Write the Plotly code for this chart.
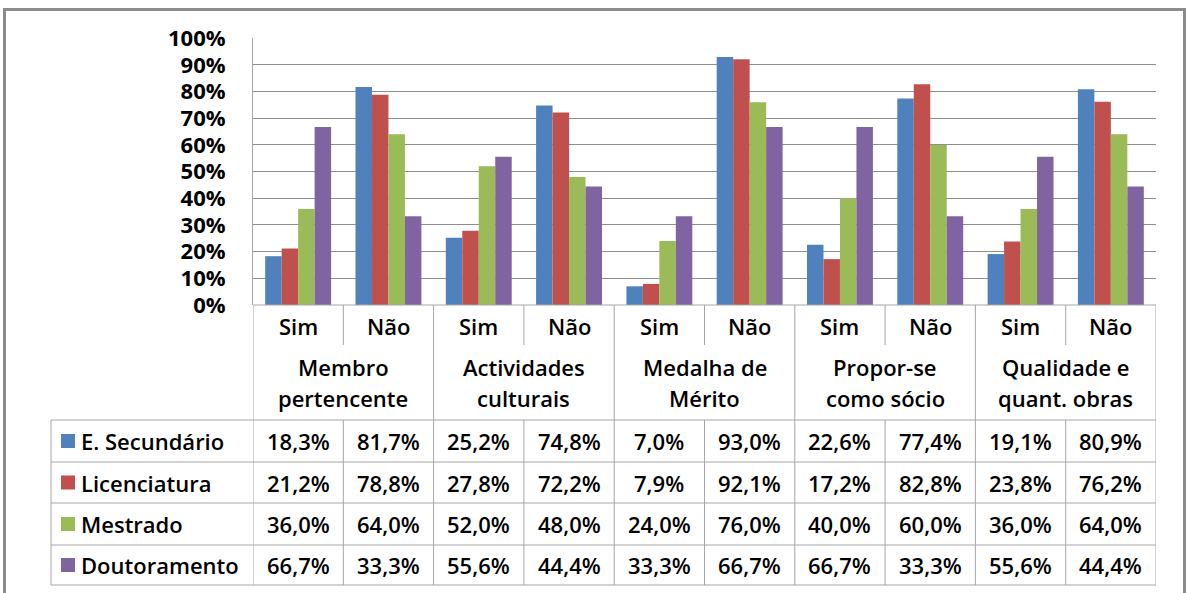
import plotly.graph_objects as go

W, H = 1187, 593

groups = ['Membro<br>pertencente', 'Actividades<br>culturais', 'Medalha de<br>Mérito',
          'Propor-se<br>como sócio', 'Qualidade e<br>quant. obras']
answers = ['Sim', 'Não']

series = ['E. Secundário', 'Licenciatura', 'Mestrado', 'Doutoramento']
colors = ['#4F81BD', '#C0504D', '#9BBB59', '#8064A2']

sec = [18.3, 81.7, 25.2, 74.8, 7.0, 93.0, 22.6, 77.4, 19.1, 80.9]
lic = [21.2, 78.8, 27.8, 72.2, 7.9, 92.1, 17.2, 82.8, 23.8, 76.2]
mes = [36.0, 64.0, 52.0, 48.0, 24.0, 76.0, 40.0, 60.0, 36.0, 64.0]
dou = [66.7, 33.3, 55.6, 44.4, 33.3, 66.7, 66.7, 33.3, 55.6, 44.4]
values = [sec, lic, mes, dou]

FONT = 'Open Sans'
TXT = 22
GRID = '#8E8E8E'
LINE = '#A6A6A6'
tfont = dict(family=FONT, size=TXT, color='black', weight=600)


def px(x):
    return x / W


def py(y):
    return 1 - y / H


n = len(groups) * len(answers)
xs = list(range(n))

fig = go.Figure()
for name, col, vals in zip(series, colors, values):
    fig.add_trace(go.Bar(x=xs, y=[v / 100 for v in vals], name=name,
                         marker=dict(color=col, line=dict(width=0))))

# table geometry (pixels)
plot_l, plot_r, plot_t, plot_b = 253, 1156, 38, 305
tab_l = 51
row_y = [420, 462, 503, 545, 585]
sub_b = 345

shapes = []
# outer chart border (bottom edge falls below the picture)
shapes.append(dict(type='rect', xref='paper', yref='paper', x0=px(4.5), x1=px(1184.5),
                   y0=py(H + 6), y1=py(9.5), line=dict(color='#8C8C8C', width=3)))
# horizontal table lines
shapes.append(dict(type='line', xref='paper', yref='paper', x0=px(plot_l), x1=px(plot_r),
                   y0=py(plot_b), y1=py(plot_b), line=dict(color=LINE, width=1)))
for y in row_y:
    shapes.append(dict(type='line', xref='paper', yref='paper', x0=px(tab_l), x1=px(plot_r),
                       y0=py(y), y1=py(y), line=dict(color=LINE, width=1)))
shapes.append(dict(type='line', xref='paper', yref='paper', x0=px(tab_l), x1=px(tab_l),
                   y0=py(row_y[0]), y1=py(row_y[-1]), line=dict(color=LINE, width=1)))
# vertical lines on category boundaries
for i in range(n + 1):
    xb = i - 0.5
    if i % 2 == 0:
        shapes.append(dict(type='line', xref='x', yref='paper', x0=xb, x1=xb,
                           y0=py(plot_b), y1=py(row_y[-1]), line=dict(color=LINE, width=1)))
    else:
        shapes.append(dict(type='line', xref='x', yref='paper', x0=xb, x1=xb,
                           y0=py(plot_b), y1=py(sub_b), line=dict(color=LINE, width=1)))
        shapes.append(dict(type='line', xref='x', yref='paper', x0=xb, x1=xb,
                           y0=py(row_y[0]), y1=py(row_y[-1]), line=dict(color=LINE, width=1)))

annotations = []
for i in range(n):
    annotations.append(dict(x=i, y=py(326), xref='x', yref='paper', text=answers[i % 2],
                            xanchor='center', yanchor='middle', showarrow=False, font=tfont))
for g, label in enumerate(groups):
    for line_txt, yl in zip(label.split('<br>'), [367, 398]):
        annotations.append(dict(x=2 * g + 0.5, y=py(yl), xref='x', yref='paper', text=line_txt,
                                xanchor='center', yanchor='middle', showarrow=False, font=tfont))

for r, (name, col, vals) in enumerate(zip(series, colors, values)):
    yc = (row_y[r] + row_y[r + 1]) / 2
    shapes.append(dict(type='rect', xref='paper', yref='paper', x0=px(61), x1=px(75),
                       y0=py(yc + 7), y1=py(yc - 7), fillcolor=col, line=dict(width=0)))
    annotations.append(dict(x=px(79), y=py(yc), xref='paper', yref='paper', text=name,
                            xanchor='left', yanchor='middle', showarrow=False, font=tfont))
    for i, v in enumerate(vals):
        annotations.append(dict(x=i, y=py(yc), xref='x', yref='paper',
                                text=f'{v:.1f}%'.replace('.', ','),
                                xanchor='center', yanchor='middle', showarrow=False, font=tfont))

fig.update_layout(
    width=W, height=H,
    margin=dict(l=0, r=0, t=0, b=0, pad=0),
    paper_bgcolor='white', plot_bgcolor='white',
    barmode='group', bargap=0.27, bargroupgap=0,
    showlegend=False,
    shapes=shapes, annotations=annotations,
    xaxis=dict(domain=[px(plot_l), px(plot_r)], range=[-0.5, n - 0.5], automargin=False,
               showticklabels=False, showgrid=False, zeroline=False, fixedrange=True),
    yaxis=dict(domain=[py(plot_b), py(plot_t)], range=[0, 1.001], automargin=False,
               tickvals=[k / 10 for k in range(11)], tickformat='.0%',
               tickfont=dict(family=FONT, size=22, color='black', weight='bold'),
               ticklabelstandoff=22,
               showgrid=True, gridcolor=GRID, gridwidth=1, zeroline=False,
               showline=True, linecolor=LINE, linewidth=1, fixedrange=True),
)

fig.write_html('out.html', config={'displayModeBar': False},
               post_script="document.body.style.margin='0';")
